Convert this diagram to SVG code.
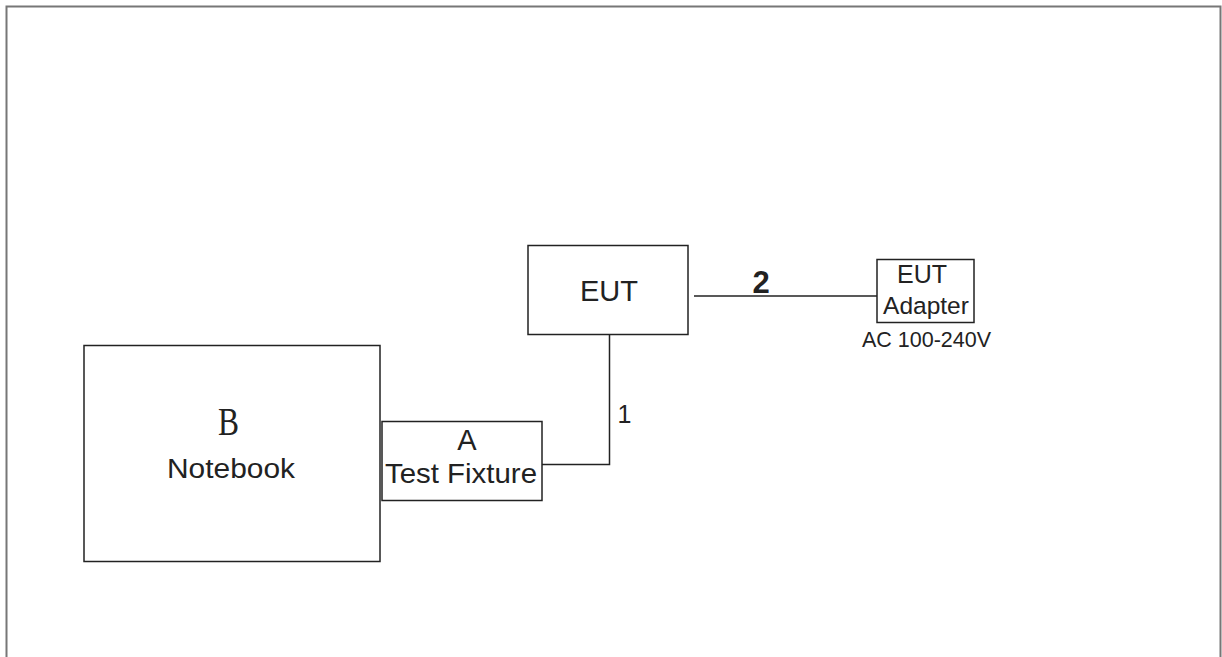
<svg xmlns="http://www.w3.org/2000/svg" width="1222" height="657" viewBox="0 0 1222 657">
<style>
.box{fill:#fff;stroke:#222;stroke-width:1.5}
.wire{fill:none;stroke:#222;stroke-width:1.5}
text{font-family:"Liberation Sans",Arial,sans-serif;fill:#222;text-anchor:middle}
</style>
<rect width="1222" height="657" fill="#fff"/>
<path d="M6.5,657 V6.5 H1220.5 V657" fill="none" stroke="#777" stroke-width="2"/>
<g id="connectors">
<path class="wire" d="M694,296 H877"/>
<path class="wire" d="M542,464.5 H609.5 V335"/>
<text x="761" y="293" font-size="31" font-weight="bold">2</text>
<text x="624.5" y="423" font-size="25">1</text>
</g>
<g id="eut">
<rect class="box" x="528" y="245.5" width="160" height="89"/>
<text x="609" y="301" font-size="29">EUT</text>
</g>
<g id="adapter">
<rect class="box" x="877" y="259.5" width="97" height="63"/>
<text x="922" y="283" font-size="25">EUT</text>
<text x="926" y="314" font-size="24.5">Adapter</text>
<text x="926.5" y="347" font-size="21.5">AC 100-240V</text>
</g>
<g id="notebook">
<rect class="box" x="84" y="345.5" width="296" height="216"/>
<text x="228.5" y="435" font-size="40" textLength="21" lengthAdjust="spacingAndGlyphs" style="font-family:'Liberation Serif',serif">B</text>
<text x="231" y="478" font-size="27.5" textLength="128" lengthAdjust="spacingAndGlyphs">Notebook</text>
</g>
<g id="fixture">
<rect class="box" x="382" y="421.5" width="160" height="79"/>
<text x="467" y="450" font-size="29">A</text>
<text x="461" y="483" font-size="28" textLength="152" lengthAdjust="spacingAndGlyphs">Test Fixture</text>
</g>
</svg>
